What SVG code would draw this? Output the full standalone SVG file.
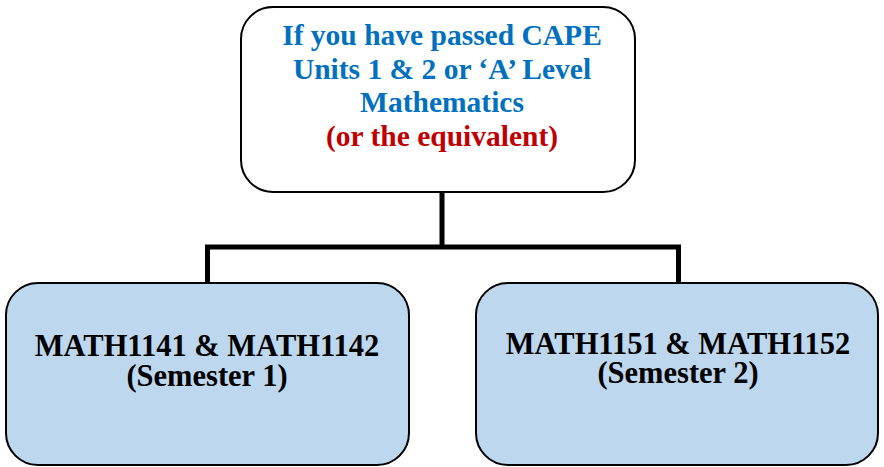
<svg xmlns="http://www.w3.org/2000/svg" width="884" height="467" viewBox="0 0 884 467">
<style>
.box{stroke:#000;stroke-width:2}
.top{fill:#fff}
.bot{fill:#BDD7EE}
.t{font-family:"Liberation Serif","Times New Roman",serif;font-weight:bold;font-size:29.5px;text-anchor:middle}
.b{font-size:30.5px}
.blue{fill:#0070C0}
.red{fill:#C00000}
.blk{fill:#000}
.conn{fill:none;stroke:#000;stroke-width:5;stroke-linejoin:miter}
</style>
<rect width="884" height="467" fill="#fff"/>
<g id="connectors">
<path class="conn" d="M442 192 V247 M207.5 283 V247 H678.5 V283"/>
</g>
<g id="node-top">
<rect class="box top" x="241" y="7" width="394" height="185" rx="32"/>
<text class="t blue" x="442" y="45">If you have passed CAPE</text>
<text class="t blue" x="442" y="79">Units 1 &amp; 2 or ‘A’ Level</text>
<text class="t blue" x="442" y="112">Mathematics</text>
<text class="t red" x="442" y="146">(or the equivalent)</text>
</g>
<g id="node-sem1">
<rect class="box bot" x="6" y="283" width="403" height="182" rx="32"/>
<text class="t b blk" x="207" y="356">MATH1141 &amp; MATH1142</text>
<text class="t b blk" x="207" y="386">(Semester 1)</text>
</g>
<g id="node-sem2">
<rect class="box bot" x="476" y="283" width="402" height="182" rx="32"/>
<text class="t b blk" x="678" y="354">MATH1151 &amp; MATH1152</text>
<text class="t b blk" x="678" y="383">(Semester 2)</text>
</g>
</svg>
